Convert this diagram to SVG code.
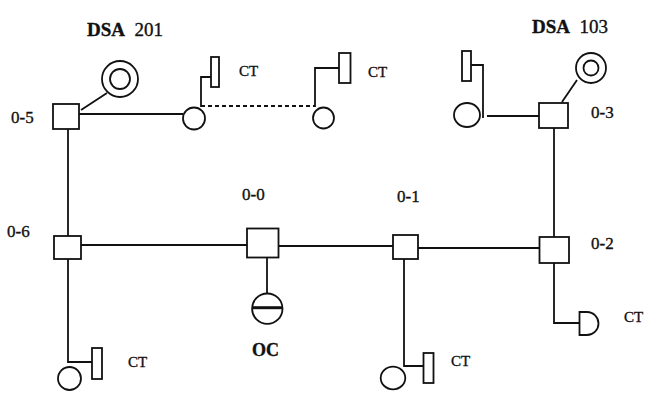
<svg xmlns="http://www.w3.org/2000/svg" width="661" height="402" viewBox="0 0 661 402">
<style>
.s{fill:none;stroke:#111;stroke-width:1.8}
.w{fill:#fff;stroke:#111;stroke-width:1.8}
.t{font-family:"Liberation Serif","Times New Roman",serif;fill:#111;stroke:#111;stroke-width:0.35;white-space:pre}
.lab{font-size:17px}
.ct{font-size:15px}
.dsa{font-size:19px}
</style>
<rect width="661" height="402" fill="#fff"/>
<g id="connectors">
  <path class="s" d="M81,110 L107,93"/>
  <path class="s" d="M79,114 H183"/>
  <path class="s" d="M68,129 V236"/>
  <path class="s" d="M201,106 H315" stroke-dasharray="4,3"/>
  <path class="s" d="M577,80 L562,102"/>
  <path class="s" d="M487,116 H539"/>
  <path class="s" d="M554,128 V237"/>
  <path class="s" d="M81,245 H247"/>
  <path class="s" d="M278,246 H393"/>
  <path class="s" d="M418,248 H539.5"/>
  <path class="s" d="M267,257.5 V293.5"/>
  <path class="s" d="M554,263 V323 H579.5"/>
  <path class="s" d="M68,259 V362 H92"/>
  <path class="s" d="M404,259 V366 H423.5"/>
</g>
<g id="n05"><rect class="w" x="53" y="104" width="26" height="25"/><text class="t lab" x="11" y="123">0-5</text></g>
<g id="dsa201"><circle class="w" cx="120" cy="79" r="18"/><circle class="s" cx="120" cy="79" r="10"/><text class="t dsa" x="87" y="36" xml:space="preserve"><tspan font-weight="bold">DSA</tspan>  201</text></g>
<g id="c1"><circle class="w" cx="194" cy="118.5" r="11"/></g>
<g id="ct1"><path class="s" d="M201,107 V77 H211"/><rect class="w" x="211" y="57" width="8" height="30"/><text class="t ct" x="239" y="76">CT</text></g>
<g id="c2"><circle class="w" cx="323.5" cy="118" r="10.5"/></g>
<g id="ct2"><path class="s" d="M315,107 V68 H339"/><rect class="w" x="339" y="53" width="11.5" height="30"/><text class="t ct" x="368" y="77">CT</text></g>
<g id="dsa103"><circle class="w" cx="591" cy="68" r="15"/><circle class="s" cx="591" cy="68" r="7.5"/><text class="t dsa" x="532" y="33" xml:space="preserve"><tspan font-weight="bold">DSA</tspan>  103</text></g>
<g id="n03"><rect class="w" x="539" y="103" width="29" height="25"/><text class="t lab" x="591" y="118">0-3</text></g>
<g id="ct3"><rect class="w" x="462" y="51" width="9" height="30"/><path class="s" d="M471,65 H483 V118"/><ellipse class="w" cx="467" cy="115" rx="13" ry="12"/></g>
<g id="n06"><rect class="w" x="54" y="236" width="27" height="23"/><text class="t lab" x="7" y="237">0-6</text></g>
<g id="n00"><rect class="w" x="247" y="228.5" width="31.5" height="29"/><text class="t lab" x="242" y="200">0-0</text></g>
<g id="oc"><circle class="w" cx="267.3" cy="308.7" r="15.2"/><path d="M253,307.7 H282" stroke="#111" stroke-width="3"/><text class="t" x="252" y="356" font-size="18" font-weight="bold">OC</text></g>
<g id="n01"><rect class="w" x="393" y="235" width="25" height="24"/><text class="t lab" x="397" y="201.5">0-1</text></g>
<g id="n02"><rect class="w" x="539.5" y="237" width="29.5" height="26"/><text class="t lab" x="591" y="249">0-2</text></g>
<g id="ct4"><path class="w" d="M579.5,312 H587 A11.5,11.5 0 0 1 587,335 H579.5 Z"/><text class="t ct" x="624" y="322">CT</text></g>
<g id="ct5"><rect class="w" x="92" y="348" width="10" height="31"/><circle class="w" cx="69.5" cy="378.5" r="11.5"/><text class="t ct" x="128" y="367">CT</text></g>
<g id="ct6"><rect class="w" x="423.5" y="353" width="10" height="30"/><ellipse class="w" cx="393" cy="378" rx="12.3" ry="11.3"/><text class="t ct" x="451" y="366">CT</text></g>
</svg>
